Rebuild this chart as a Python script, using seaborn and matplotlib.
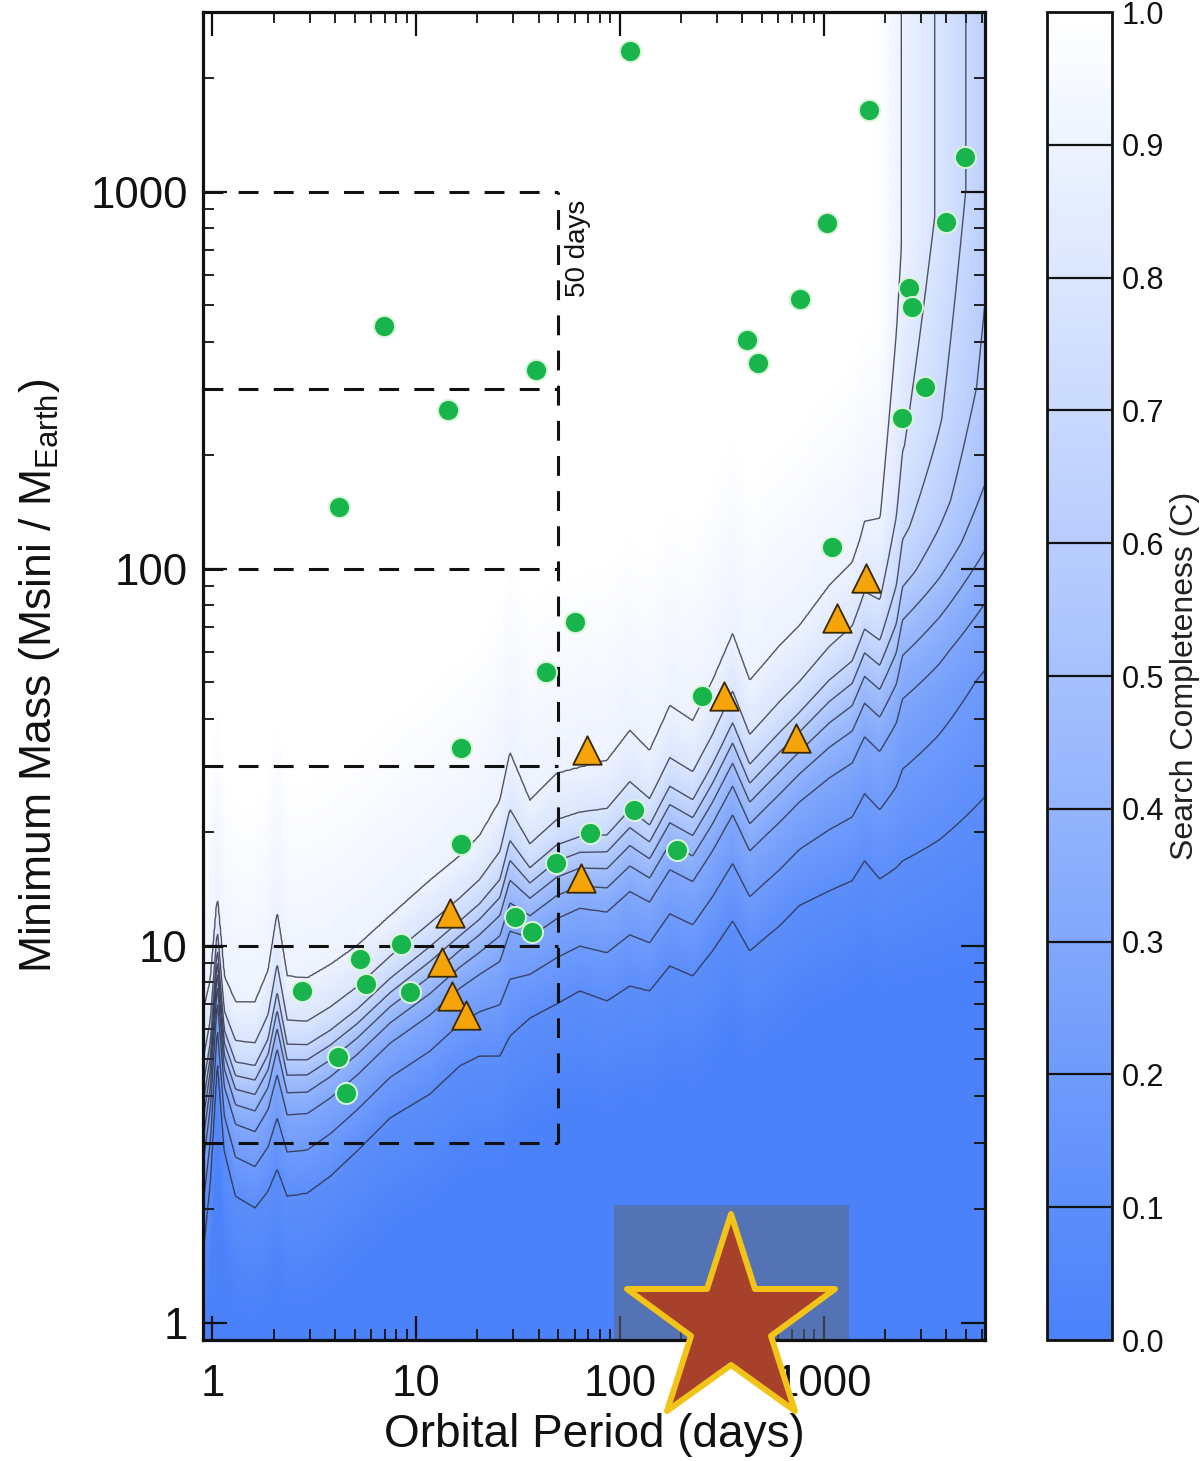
import numpy as np
import pandas as pd
import matplotlib
matplotlib.use("Agg")
import matplotlib.pyplot as plt
import seaborn as sns
from matplotlib.colors import LinearSegmentedColormap
from matplotlib.patches import Rectangle
from matplotlib.markers import MarkerStyle
from matplotlib.ticker import FixedLocator, LogLocator, NullFormatter

# ---------------- data ----------------
circ_period = [112, 1662, 4966, 1035, 4009, 2612, 2730, 763, 419, 475, 3162, 2439,
               6.97, 38.7, 14.3, 4.2, 1094, 60.2, 43.4, 252, 16.6, 16.6, 118, 71.3,
               190, 48.6, 30.6, 37.0, 8.45, 5.32, 5.69, 9.35, 2.76, 4.15, 4.54]
circ_mass = [2366, 1650, 1238, 827, 830, 556, 495, 520, 405, 352, 304, 252,
             441, 337, 264, 146, 114, 72.3, 53.3, 46.0, 33.5, 18.6, 22.9, 19.9,
             17.9, 16.6, 11.9, 10.9, 10.1, 9.24, 7.93, 7.55, 7.6, 5.08, 4.08]

tri_period = [1607, 1158, 323, 729, 68.9, 64.4, 14.7, 13.4, 15.0, 17.6]
tri_mass = [94.6, 74.1, 46.0, 35.6, 33.1, 15.1, 12.2, 9.07, 7.37, 6.56]

# completeness contours: mass of the C=0.9 and C=0.1 contours at node periods
node_period = [0.903, 0.978, 1.058, 1.145, 1.30, 1.62, 1.88, 2.08, 2.33, 2.92,
               3.79, 5.14, 7.46, 11.7, 16.4, 20.5, 25.8, 28.9, 36.2, 49.0,
               63.6, 86.5, 112, 140, 176, 228, 285, 358, 434, 526,
               608, 761, 1066, 1383, 1589, 1883, 2278, 2440, 3716, 6160]
c90_mass = [6.7, 8.1, 13.4, 8.3, 7.1, 7.1, 8.6, 12.2, 8.3, 8.2,
            8.9, 10.0, 12.0, 14.9, 17.3, 19.6, 24.3, 32.5, 24.3, 28.6,
            29.7, 31.0, 37.2, 32.9, 43.3, 39.5, 50.5, 67.2, 50.5, 57.0,
            62.5, 70.6, 90.2, 104, 130, 122, 160, 211, 247, 315]
c10_mass = [1.55, 2.38, 4.96, 2.86, 2.17, 2.02, 2.24, 2.56, 2.17, 2.21,
            2.45, 2.86, 3.50, 4.05, 4.81, 5.11, 5.11, 5.77, 6.44, 7.02,
            7.60, 7.15, 7.83, 7.60, 8.85, 8.33, 9.70, 11.65, 9.70, 10.6,
            11.3, 12.8, 14.0, 14.9, 16.8, 15.0, 15.5, 15.8, 16.5, 18.0]
levels = [0.1, 0.2, 0.3, 0.4, 0.5, 0.6, 0.7, 0.8, 0.9]
level_frac = [0.0, 0.2, 0.37, 0.47, 0.55, 0.62, 0.69, 0.80, 1.0]
# long-period cut-off (vertical contour asymptotes)
cut_period = [1500, 1900, 2440, 3580, 5080, 6200]
cut_factor = [1.0, 0.99, 0.895, 0.795, 0.695, 0.64]

box_masses = [3, 10, 30, 100, 300, 1000]
box_period = 50
star_period = 350
star_mass = 1.0

x_ticks = [1, 10, 100, 1000]
y_ticks = [1, 10, 100, 1000]
cbar_ticks = [0.0, 0.1, 0.2, 0.3, 0.4, 0.5, 0.6, 0.7, 0.8, 0.9, 1.0]

# ---------------- build the completeness grid ----------------
xlim = (0.9, 6200)
ylim = (0.9, 3000)
pg = np.logspace(np.log10(xlim[0]), np.log10(xlim[1]), 800)
mg = np.logspace(np.log10(ylim[0]), np.log10(ylim[1]), 700)
lp, lm = np.log10(pg), np.log10(mg)
lnp = np.log10(node_period)
L10 = np.interp(lp, lnp, np.log10(c10_mass))
L90 = np.interp(lp, lnp, np.log10(c90_mass))
gfac = np.interp(lp, np.log10(cut_period), cut_factor)
C = np.empty((len(mg), len(pg)))
for j in range(len(pg)):
    span = L90[j] - L10[j]
    xs = [L10[j] - 0.3] + list(L10[j] + np.array(level_frac) * span) + [L90[j] + 0.55]
    ys = [0.0] + levels + [1.0]
    C[:, j] = np.interp(lm, xs, ys) * gfac[j]

# ---------------- style ----------------
sns.set_theme(style="ticks")
plt.rcParams["font.family"] = ["Liberation Sans", "DejaVu Sans"]
plt.rcParams["mathtext.fontset"] = "custom"
plt.rcParams["mathtext.rm"] = "Liberation Sans"
plt.rcParams["mathtext.it"] = "Liberation Sans:italic"

cmap = LinearSegmentedColormap.from_list("compl", ["#4b82fa", "#ffffff"])

fig = plt.figure(figsize=(12.03, 14.61), dpi=100)
ax = fig.add_axes([203 / 1203, 121 / 1461, 782 / 1203, 1328 / 1461])
ax.set_xscale("log")
ax.set_yscale("log")

mesh = ax.pcolormesh(pg, mg, C, cmap=cmap, vmin=0, vmax=1, shading="gouraud", zorder=0)
ax.contour(pg, mg, C, levels=levels, colors="#2a2d3e", linewidths=1.0, alpha=0.8, zorder=1)

# dashed boxes
dash = (0, (6.5, 5.0))
for m in box_masses:
    ax.hlines(m, xlim[0], box_period, colors="#111111", linestyles=dash, linewidth=2.2, zorder=3)
ax.vlines(box_period, min(box_masses), max(box_masses), colors="#111111",
          linestyles=dash, linewidth=2.2, zorder=3)
ax.text(62, 710, "50 days", rotation=90, ha="center", va="center", fontsize=20, color="#111111")

# planets
dfc = pd.DataFrame({"period": circ_period, "mass": circ_mass})
dft = pd.DataFrame({"period": tri_period, "mass": tri_mass})
sns.scatterplot(data=dfc, x="period", y="mass", ax=ax, s=230, color="#18b44c",
                edgecolor="#d8f5d8", linewidth=1.4, zorder=5, legend=False)
sns.scatterplot(data=dft, x="period", y="mass", ax=ax, marker="^", s=420, color="#f5a50a",
                edgecolor="#3a2800", linewidth=1.3, zorder=6, legend=False)

ax.set_xlim(*xlim)
ax.set_ylim(*ylim)

# ticks
ax.xaxis.set_major_locator(FixedLocator(x_ticks))
ax.yaxis.set_major_locator(FixedLocator(y_ticks))
ax.set_xticklabels([str(t) for t in x_ticks])
ax.set_yticklabels([str(t) for t in y_ticks])
ax.xaxis.set_minor_locator(LogLocator(base=10, subs=np.arange(2, 10)))
ax.yaxis.set_minor_locator(LogLocator(base=10, subs=np.arange(2, 10)))
ax.xaxis.set_minor_formatter(NullFormatter())
ax.yaxis.set_minor_formatter(NullFormatter())
ax.tick_params(which="both", direction="in", top=True, right=True, colors="#111111")
ax.tick_params(which="major", length=17, width=1.6)
ax.tick_params(which="minor", length=8, width=1.3)
ax.tick_params(axis="x", which="major", labelsize=31.5, pad=17)
ax.tick_params(axis="y", which="major", labelsize=31.5, pad=11)
for sp in ax.spines.values():
    sp.set_linewidth(2.3)
    sp.set_color("#111111")
    sp.set_zorder(4)

ax.set_xlabel("Orbital Period (days)", fontsize=33, color="#111111")
ax.set_ylabel("Minimum Mass (Msini / M$_{\\mathrm{Earth}}$)", fontsize=32, color="#111111")
ax.xaxis.set_label_coords(0.5, -0.055)
ax.yaxis.set_label_coords(-0.180, 0.5)

# overlay: translucent box and star
ax.add_patch(Rectangle((0.5256, 0.0), 0.3005, 0.1017, transform=ax.transAxes,
                       facecolor="#5d677b", alpha=0.55, edgecolor="none", zorder=3.5))
ax.plot([star_period], [star_mass], linestyle="none",
        marker=MarkerStyle("*", joinstyle="round"), ms=157,
        markerfacecolor="#a8412c", markeredgecolor="#f2c418", markeredgewidth=4.3,
        clip_on=False, zorder=100)

# colorbar
cax = fig.add_axes([1047 / 1203, 121 / 1461, 65 / 1203, 1328 / 1461])
cb = fig.colorbar(mesh, cax=cax, ticks=cbar_ticks)
cb.ax.set_yticklabels([f"{t:.1f}" for t in cbar_ticks])
cb.ax.tick_params(length=0, pad=7, labelsize=22, colors="#111111")
for lev in levels:
    cax.axhline(lev, color="#111111", linewidth=1.6)
cb.outline.set_linewidth(2.0)
cb.outline.set_edgecolor("#111111")
cb.set_label("Search Completeness (C)", fontsize=23, color="#222222")
cax.yaxis.set_label_coords(1.9, 0.5)

fig.savefig("out.png", dpi=100)
